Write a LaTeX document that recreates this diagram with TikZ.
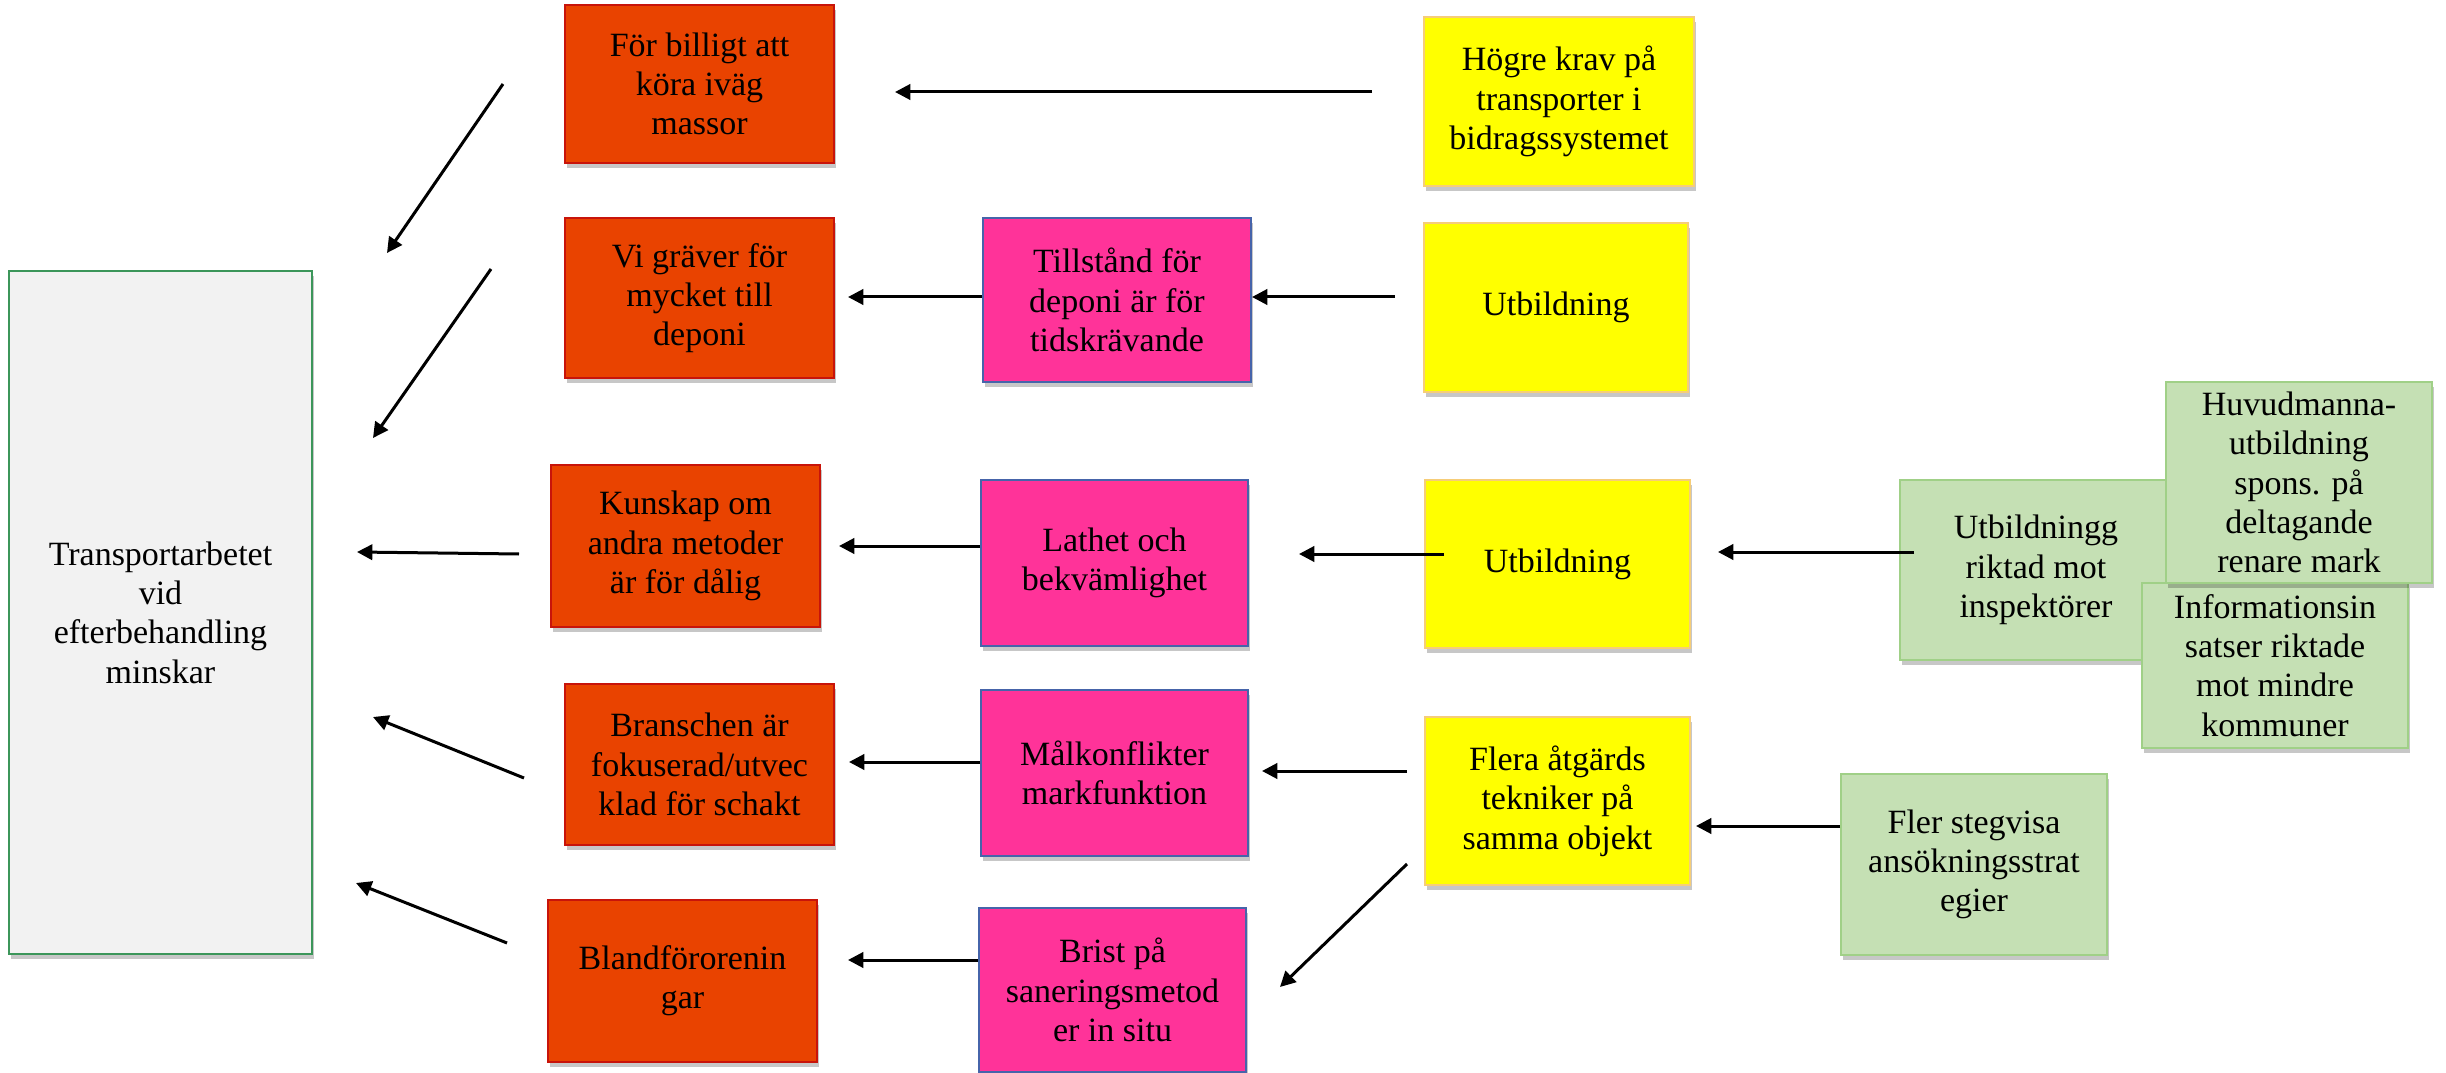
\documentclass[tikz,border=0pt]{standalone}
\usepackage{fontspec}
\setmainfont{Liberation Serif}
\usetikzlibrary{arrows.meta,shadows}
\definecolor{redfill}{RGB}{233,67,0}
\definecolor{redline}{RGB}{200,20,10}
\definecolor{pinkfill}{RGB}{255,51,153}
\definecolor{pinkline}{RGB}{70,100,170}
\definecolor{yelfill}{RGB}{255,255,0}
\definecolor{yelline}{RGB}{246,205,120}
\definecolor{grnfill}{RGB}{197,224,180}
\definecolor{grnline}{RGB}{160,208,135}
\definecolor{greyfill}{RGB}{242,242,242}
\definecolor{greyline}{RGB}{60,150,90}
\tikzset{
  box/.style={draw, line width=0.6pt, inner sep=0pt, align=center,
    font=\fontsize{10.2}{11.8}\selectfont,
    drop shadow={shadow xshift=0.5pt, shadow yshift=-1.4pt, opacity=0.22, fill=black}},
  redbox/.style={box, fill=redfill, draw=redline},
  pinkbox/.style={box, fill=pinkfill, draw=pinkline},
  yelbox/.style={box, fill=yelfill, draw=yelline},
  grnbox/.style={box, fill=grnfill, draw=grnline},
  mainbox/.style={box, fill=greyfill, draw=greyline},
  wh/.style 2 args={minimum width=#1*0.3pt, minimum height=#2*0.3pt},
  arr/.style={line width=0.9pt, -{Triangle[length=4.6pt,width=4.6pt]}}
}
\begin{document}
\begin{tikzpicture}[x=0.3pt,y=-0.3pt]
\useasboundingbox (0,0) rectangle (2446,1073);
% left box
\node[mainbox, wh={303}{683}] (L) at (160.5,612.5) {Transportarbetet\\vid\\efterbehandling\\minskar};
% red column
\node[redbox, wh={269}{158}] (R1) at (699.5,84) {För billigt att\\köra iväg\\massor};
\node[redbox, wh={269}{160}] (R2) at (699.5,298) {Vi gräver för\\mycket till\\deponi};
\node[redbox, wh={269}{162}] (R3) at (685.5,546) {Kunskap om\\andra metoder\\är för dålig};
\node[redbox, wh={269}{161}] (R4) at (699.5,764.5) {Branschen är\\fokuserad/utvec\\klad för schakt};
\node[redbox, wh={269}{162}] (R5) at (682.5,981) {Blandförorenin\\gar};
% pink column
\node[pinkbox, wh={268}{164}] (P2) at (1117,300) {Tillstånd för\\deponi är för\\tidskrävande};
\node[pinkbox, wh={267}{166}] (P3) at (1114.5,563) {Lathet och\\bekvämlighet};
\node[pinkbox, wh={267}{166}] (P4) at (1114.5,773) {Målkonflikter\\markfunktion};
\node[pinkbox, wh={267}{164}] (P5) at (1112.5,990) {Brist på\\saneringsmetod\\er in situ};
% yellow column
\node[yelbox, wh={270}{169}] (Y1) at (1559,101.5) {Högre krav på\\transporter i\\bidragssystemet};
\node[yelbox, wh={264}{169}] (Y2) at (1556,307.5) {Utbildning};
\node[yelbox, wh={265}{168}] (Y3) at (1557.5,564) {Utbildning};
\node[yelbox, wh={265}{168}] (Y4) at (1557.5,801) {Flera åtgärds\\tekniker på\\samma objekt};
% green
\node[grnbox, wh={272}{180}] (G1) at (2036,570) {Utbildningg\\riktad mot\\inspektörer};
\node[grnbox, wh={266}{165}] (G3) at (2275,665.5) {Informationsin\\satser riktade\\mot mindre\\kommuner};
\node[grnbox, wh={266}{201}] (G2) at (2299,482.5) {Huvudmanna-\\utbildning\\spons. på\\deltagande\\renare mark};
\node[grnbox, wh={266}{181}] (G4) at (1974,864.5) {Fler stegvisa\\ansökningsstrat\\egier};
% arrow end points
\coordinate (a1s) at (1372,92);  \coordinate (a1e) at (895,92);
\coordinate (a2s) at (1395,297);
\coordinate (a3e) at (848,297);
\coordinate (a4s) at (503,84);   \coordinate (a4e) at (387,253);
\coordinate (a5s) at (491,269);  \coordinate (a5e) at (373,438);
\coordinate (a6s) at (519,554);  \coordinate (a6e) at (357,552);
\coordinate (a7e) at (839,546);
\coordinate (a8s) at (1444,554); \coordinate (a8e) at (1299,554);
\coordinate (a9s) at (1914,552); \coordinate (a9e) at (1718,552);
\coordinate (a10s) at (524,778); \coordinate (a10e) at (373,717);
\coordinate (a11e) at (849,762);
\coordinate (a12s) at (1407,771); \coordinate (a12e) at (1262,771);
\coordinate (a13e) at (1696,826);
\coordinate (a14s) at (1407,864); \coordinate (a14e) at (1280,987);
\coordinate (a15s) at (507,943); \coordinate (a15e) at (356,883);
\coordinate (a16e) at (848,960);
% arrows
\draw[arr] (a1s) -- (a1e);
\draw[arr] (a2s) -- (a2s -| P2.east);
\draw[arr] (a3e -| P2.west) -- (a3e);
\draw[arr] (a4s) -- (a4e);
\draw[arr] (a5s) -- (a5e);
\draw[arr] (a6s) -- (a6e);
\draw[arr] (a7e -| P3.west) -- (a7e);
\draw[arr] (a8s) -- (a8e);
\draw[arr] (a9s) -- (a9e);
\draw[arr] (a10s) -- (a10e);
\draw[arr] (a11e -| P4.west) -- (a11e);
\draw[arr] (a12s) -- (a12e);
\draw[arr] (a13e -| G4.west) -- (a13e);
\draw[arr] (a14s) -- (a14e);
\draw[arr] (a15s) -- (a15e);
\draw[arr] (a16e -| P5.west) -- (a16e);
\end{tikzpicture}
\end{document}
